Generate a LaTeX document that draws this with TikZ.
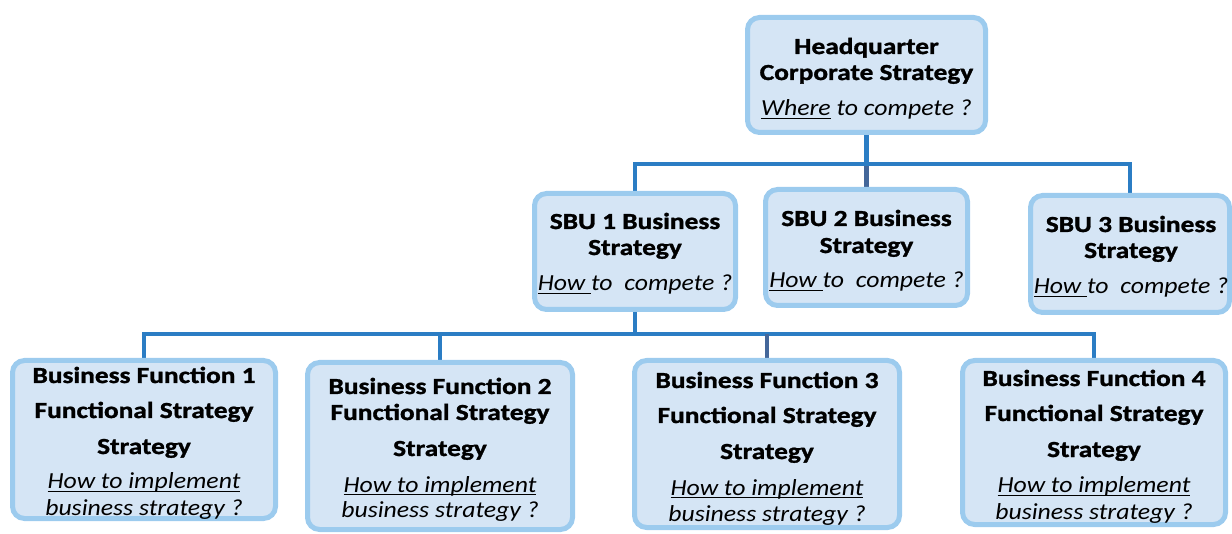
\documentclass[tikz,border=0pt]{standalone}
\usepackage{fontspec}
\setmainfont{Carlito}
\newfontfamily\ttlfont{Carlito}[FakeStretch=1.19, BoldFeatures={FakeBold=1.3}]
\newfontfamily\qstfont{Carlito}[FakeStretch=1.12]
\usetikzlibrary{backgrounds}
\definecolor{boxfill}{HTML}{D5E5F5}
\definecolor{boxline}{HTML}{9CCBEE}
\definecolor{conn}{HTML}{2B7DC4}
\definecolor{conndark}{HTML}{44679A}
\tikzset{
  box/.style={draw=boxline, fill=boxfill, line width=5pt, rounded corners=12pt, inner sep=0pt},
  ttl/.style={anchor=base, inner sep=0pt, font=\ttlfont\fontsize{23}{27}\selectfont\bfseries},
  qst/.style={anchor=base, inner sep=0pt, font=\qstfont\fontsize{23}{27}\selectfont\itshape},
  connector/.style={draw=conn, line width=4.8pt},
  connectordark/.style={draw=conndark, line width=4.8pt},
}
\newcommand{\ul}[1]{{\setbox0\hbox{#1}\rlap{\rule[-3pt]{\wd0}{1.1pt}}\box0}}
\newcommand{\mkbox}[5]{% name, x1, y1, x2, y2 (outer)
  \node[box, minimum width={#4-#2-5}, minimum height={#5-#3-5}] (#1) at ({(#2+#4)/2},{(#3+#5)/2}) {};}
\begin{document}
\begin{tikzpicture}[x=1pt,y=-1pt]
\useasboundingbox (0,0) rectangle (1232,534);
% boxes
\mkbox{hq}{745}{15}{988}{135}
\mkbox{sbu1}{532}{191}{738}{312}
\mkbox{sbu2}{763}{187}{970}{308}
\mkbox{sbu3}{1028}{193}{1232}{315}
\mkbox{bf1}{10}{358}{278}{521}
\mkbox{bf2}{305}{360}{575}{532}
\mkbox{bf3}{632}{358}{902}{530}
\mkbox{bf4}{960}{358}{1228}{527}
% bus coordinates
\coordinate (bus1) at (866.5,164);
\coordinate (bus2) at (635,334);
% connectors
\begin{scope}[on background layer]
\path[connector] (hq.south) -- (bus1);
\path[connectordark] (bus1) -- (sbu2.north);
\path[connector] (sbu1.north) -- (sbu1.north |- bus1) -- (sbu3.north |- bus1) -- (sbu3.north);
\path[connector] (sbu1.south) -- (bus2);
\path[connector] (bf1.north) -- (bf1.north |- bus2) -- (bf4.north |- bus2) -- (bf4.north);
\path[connector] (bus2 -| bf2.north) -- (bf2.north);
\path[connectordark] (bus2 -| bf3.north) -- (bf3.north);
\end{scope}
% HQ text
\node[ttl] (hq1) at (866.5,54) {Headquarter};
\node[ttl] (hq2) at (866.5,80) {Corporate Strategy};
\node[qst] (hq3) at (866.5,116) {\ul{Where} to compete ?};
% SBU texts
\node[ttl] (s11) at (635,229) {SBU 1 Business};
\node[ttl] (s12) at (635,255) {Strategy};
\node[qst] (s13) at (635,291) {\ul{How }to\ \ compete ?};
\node[ttl] (s21) at (866.5,226) {SBU 2 Business};
\node[ttl] (s22) at (866.5,253) {Strategy};
\node[qst] (s23) at (866.5,288) {\ul{How }to\ \ compete ?};
\node[ttl] (s31) at (1131,232) {SBU 3 Business};
\node[ttl] (s32) at (1131,258) {Strategy};
\node[qst] (s33) at (1131,294) {\ul{How }to\ \ compete ?};
% BF texts
\node[ttl] (b11) at (144,383) {Business Function 1};
\node[ttl] (b12) at (144,418) {Functional Strategy};
\node[ttl] (b13) at (144,454) {Strategy};
\node[qst] (b14) at (144,489) {\ul{How to implement}};
\node[qst] (b15) at (144,515) {business strategy ?};
\node[ttl] (b21) at (440,394) {Business Function 2};
\node[ttl] (b22) at (440,420) {Functional Strategy};
\node[ttl] (b23) at (440,456) {Strategy};
\node[qst] (b24) at (440,492) {\ul{How to implement}};
\node[qst] (b25) at (440,517) {business strategy ?};
\node[ttl] (b31) at (767,388) {Business Function 3};
\node[ttl] (b32) at (767,423) {Functional Strategy};
\node[ttl] (b33) at (767,459) {Strategy};
\node[qst] (b34) at (767,495) {\ul{How to implement}};
\node[qst] (b35) at (767,521) {business strategy ?};
\node[ttl] (b41) at (1094,386) {Business Function 4};
\node[ttl] (b42) at (1094,421) {Functional Strategy};
\node[ttl] (b43) at (1094,457) {Strategy};
\node[qst] (b44) at (1094,493) {\ul{How to implement}};
\node[qst] (b45) at (1094,519) {business strategy ?};
\end{tikzpicture}
\end{document}
